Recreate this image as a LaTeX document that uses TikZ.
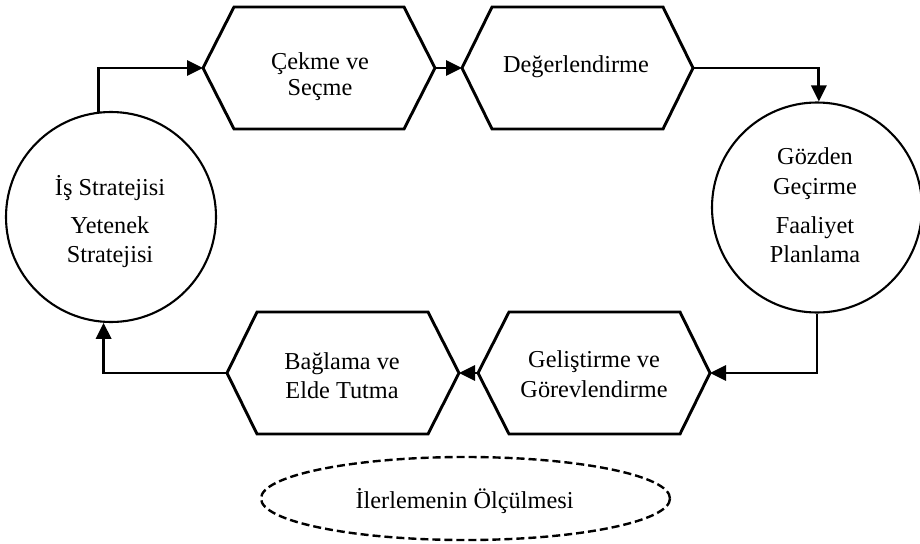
\documentclass[tikz,border=0pt]{standalone}
\usepackage{fontspec}
\setmainfont{Liberation Serif}
\usetikzlibrary{arrows.meta,shapes.geometric}
\begin{document}
\begin{tikzpicture}[x=1pt,y=-1pt,
  hexline/.style={line width=2.9pt, line join=miter},
  ring/.style={circle, draw, line width=2.1pt, minimum size=210pt, inner sep=0pt},
  flow/.style={line width=2.9pt, -{Triangle[length=16pt,width=15pt]}},
  txt/.style={anchor=base, inner sep=0pt, font=\fontsize{24.3}{29}\selectfont},
  goal/.style={ellipse, draw, dash pattern=on 8pt off 4pt, line width=2.4pt,
    minimum width=409pt, minimum height=83pt, inner sep=0pt}
]
\useasboundingbox (0,0) rectangle (920,543);

% strategy circles
\node[ring] (c1) at (111,217) {};
\node[txt] (c1a) at (110,195) {İş Stratejisi};
\node[txt] (c1b) at (110,233) {Yetenek};
\node[txt] (c1c) at (110,262) {Stratejisi};

\node[ring] (c2) at (817,207.5) {};
\node[txt] (c2a) at (815,164) {Gözden};
\node[txt] (c2b) at (815,194) {Geçirme};
\node[txt] (c2c) at (815,233) {Faaliyet};
\node[txt] (c2d) at (815,262) {Planlama};

% upper row of hexagons
\coordinate (h1w) at (203,68); \coordinate (h1e) at (435,68);
\draw[hexline] (h1w) -- (234,7) -- (404,7) -- (h1e) -- (404,129) -- (234,129) -- cycle;
\node[txt] (h1a) at (320,69) {Çekme ve};
\node[txt] (h1b) at (320,95) {Seçme};

\coordinate (h2w) at (462,68); \coordinate (h2e) at (693,68);
\draw[hexline] (h2w) -- (492,7) -- (663,7) -- (h2e) -- (663,129) -- (492,129) -- cycle;
\node[txt] (h2a) at (576,73) {Değerlendirme};

% lower row of hexagons
\coordinate (h3w) at (478,373); \coordinate (h3e) at (710,373);
\draw[hexline] (h3w) -- (509,312) -- (680,312) -- (h3e) -- (680,434) -- (509,434) -- cycle;
\node[txt] (h3a) at (594,367) {Geliştirme ve};
\node[txt] (h3b) at (594,397) {Görevlendirme};

\coordinate (h4w) at (227,373); \coordinate (h4e) at (459,373);
\draw[hexline] (h4w) -- (257,312) -- (428,312) -- (h4e) -- (428,434) -- (257,434) -- cycle;
\node[txt] (h4a) at (342,369) {Bağlama ve};
\node[txt] (h4b) at (342,398) {Elde Tutma};

% measurement ellipse
\node[goal] (m) at (465.5,498.5) {};
\node[txt] (ma) at (464.5,508) {İlerlemenin Ölçülmesi};

% cycle connectors
\draw[flow] (c1.97) |- (h1w);
\draw[flow] (h1e) -- (h2w);
\draw[flow] (h2e) -| (c2.89);
\draw[flow] (c2.south) |- (h3e);
\draw[flow] (h3w) -- (h4e);
\draw[flow] (h4w) -| (c1.266);
\end{tikzpicture}
\end{document}
